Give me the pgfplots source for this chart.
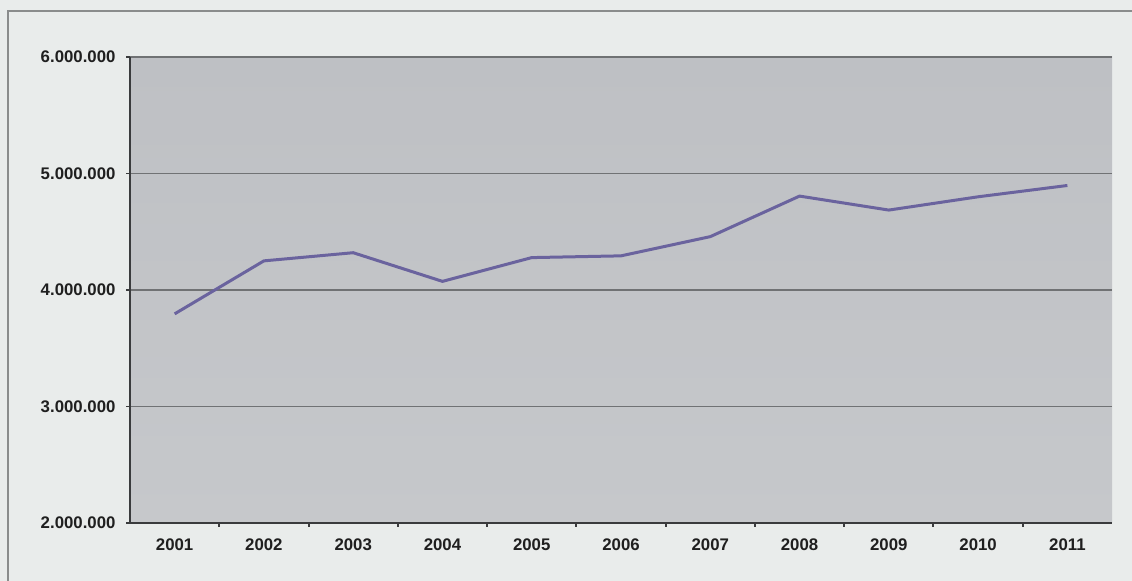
\documentclass[border=0pt]{standalone}
\usepackage{pgfplots}
\pgfplotsset{compat=1.18}
\usepackage{fontspec}
\setmainfont{Liberation Sans}
\definecolor{bgout}{HTML}{E9ECEB}
\definecolor{plottop}{HTML}{BEC0C4}
\definecolor{plotbot}{HTML}{C6C8CB}
\definecolor{gridc}{HTML}{707274}
\definecolor{axisc}{HTML}{3A3B3D}
\definecolor{linec}{HTML}{6A639E}
\definecolor{framec}{HTML}{8A8C8C}

\begin{document}
\begin{tikzpicture}[x=1bp,y=1bp]
\fill[bgout] (0,0) rectangle (1132,581);
\useasboundingbox (0,0) rectangle (1132,581);
\draw[framec, line width=1.2bp] (8,0) -- (8,570) -- (1132,570);
\begin{axis}[
  at={(130bp,58bp)}, anchor=south west,
  scale only axis, width=982bp, height=466bp,
  xmin=-0.5, xmax=10.5, ymin=2000000, ymax=6000000,
  scaled y ticks=false,
  axis background/.style={top color=plottop, bottom color=plotbot},
  axis x line*=bottom, axis y line*=left,
  axis line style={axisc, line width=2.2bp},
  xtick={0,...,10},
  xticklabels={2001,2002,2003,2004,2005,2006,2007,2008,2009,2010,2011},
  minor xtick={0.5,1.5,...,9.5},
  major x tick style={draw=none},
  minor x tick style={axisc, line width=2bp},
  minor tick length=4bp,
  ytick={2000000,3000000,4000000,5000000,6000000},
  yticklabels={2.000.000,3.000.000,4.000.000,5.000.000,6.000.000},
  major y tick style={axisc, line width=1.5bp},
  major tick length=4bp,
  tick align=outside,
  ymajorgrids,
  major grid style={gridc, line width=1.2bp},
  tick label style={font=\fontsize{16.8bp}{19bp}\selectfont\bfseries, text=black!88},
  xticklabel style={yshift=-8bp},
  yticklabel style={xshift=-7bp},
  clip=false,
]
\addplot[linec, line width=3bp] coordinates {
  (0,3795000) (1,4250000) (2,4320000) (3,4074000) (4,4278000) (5,4293000)
  (6,4458000) (7,4806000) (8,4686000) (9,4800000) (10,4897000)
};
\end{axis}
\end{tikzpicture}
\end{document}
